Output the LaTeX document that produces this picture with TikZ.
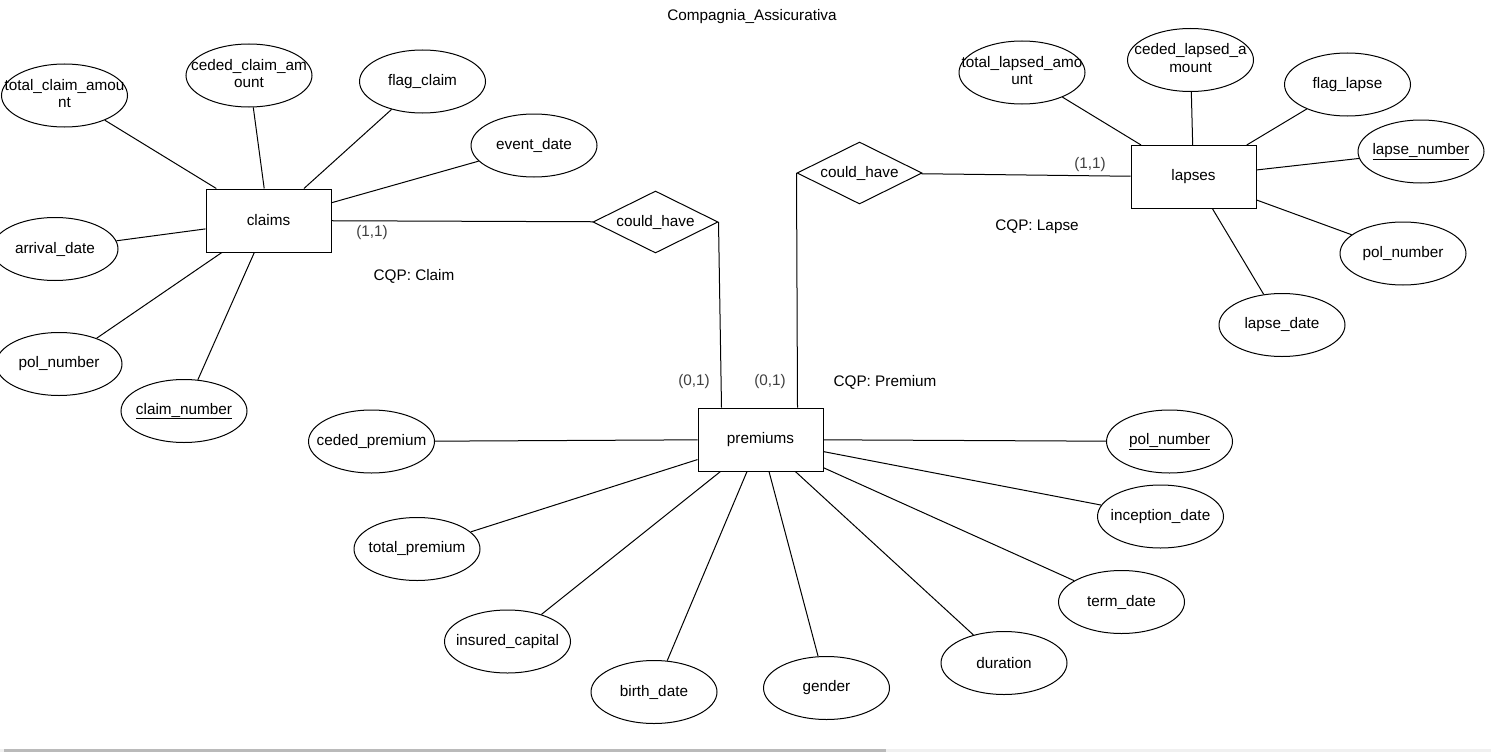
\documentclass[tikz,border=0pt]{standalone}
\usepackage{fontspec}
\setmainfont{Liberation Sans}
\usetikzlibrary{shapes.geometric,calc}
\newcommand\ertxt[1]{\makebox[0pt][c]{#1}}
\newcommand\ertwo[2]{\makebox[0pt][c]{\begin{tabular}{@{}c@{}}#1\\#2\end{tabular}}}
\begin{document}
\begin{tikzpicture}[x=1pt,y=-1pt,
  font=\fontsize{15.3}{17.3}\selectfont,
  line width=1pt,
  ent/.style={draw, rectangle, minimum width=125pt, minimum height=63pt, inner sep=0pt, fill=white},
  attr/.style={draw, ellipse, minimum width=126pt, minimum height=63pt, inner sep=0pt, fill=white},
  rel/.style={draw, diamond, aspect=2, minimum width=125pt, minimum height=62pt, inner sep=0pt, fill=white},
  lbl/.style={inner sep=0pt},
  card/.style={inner sep=0pt, text=black!75},
  conn/.style={draw, line width=1pt}]
\fill[white] (0,0) rectangle (1491,752);
\useasboundingbox (0,0) rectangle (1491,752);

% entities and relationships
\node[ent] (cl) at (268.5,220.5) {claims};
\node[ent] (pr) at (760.5,439.5) {premiums};
\node[ent] (la) at (1193.5,177) {lapses};
\node[rel] (r1) at (655.5,222) {\ertxt{could\_have}};
\node[rel] (r2) at (859.5,173) {\ertxt{could\_have}};

% claims attributes
\node[attr] (tca) at (64.5,95.5) {\ertwo{total\_claim\_amou}{nt}};
\node[attr] (cca) at (249,75.5) {\ertwo{ceded\_claim\_am}{ount}};
\node[attr] (fc) at (422.5,81.5) {\ertxt{flag\_claim}};
\node[attr] (ed) at (534,145.5) {\ertxt{event\_date}};
\node[attr] (ad) at (55,249) {\ertxt{arrival\_date}};
\node[attr] (pnc) at (59,364) {\ertxt{pol\_number}};
\node[attr] (cn) at (184,411) {\ertxt{\underline{claim\_number}}};

% lapses attributes
\node[attr] (tla) at (1022,72.5) {\ertwo{total\_lapsed\_amo}{unt}};
\node[attr] (cla) at (1190.5,60) {\ertwo{ceded\_lapsed\_a}{mount}};
\node[attr] (fl) at (1347.5,84.5) {\ertxt{flag\_lapse}};
\node[attr] (ln) at (1421,151.5) {\ertxt{\underline{lapse\_number}}};
\node[attr] (pnl) at (1403,253.5) {\ertxt{pol\_number}};
\node[attr] (ld) at (1282,325) {\ertxt{lapse\_date}};

% premiums attributes
\node[attr] (cp) at (371.5,441.5) {\ertxt{ceded\_premium}};
\node[attr] (tp) at (417,549) {\ertxt{total\_premium}};
\node[attr] (ic) at (507.5,641.5) {\ertxt{insured\_capital}};
\node[attr] (bd) at (654,692) {\ertxt{birth\_date}};
\node[attr] (ge) at (826.5,688) {\ertxt{gender}};
\node[attr] (du) at (1004,663) {\ertxt{duration}};
\node[attr] (td) at (1121.5,602) {\ertxt{term\_date}};
\node[attr] (id) at (1160.5,516.5) {\ertxt{inception\_date}};
\node[attr] (pnp) at (1169.5,441.5) {\ertxt{\underline{pol\_number}}};

% labels
\node[lbl] (title) at (752,17) {Compagnia\_Assicurativa};
\node[card] (c11) at (372,233) {(1,1)};
\node[lbl] (cqpc) at (414,276) {CQP: Claim};
\node[card] (p01a) at (694,382) {(0,1)};
\node[card] (p01b) at (770,382) {(0,1)};
\node[lbl] (cqpp) at (885,382) {CQP: Premium};
\node[card] (l11) at (1090,165) {(1,1)};
\node[lbl] (cqpl) at (1037,227) {CQP: Lapse};

\coordinate (pra) at ($(pr.north west)+(24,0)$);
\coordinate (prb) at ($(pr.north west)+(100,0)$);

% connectors
\foreach \a in {tca,cca,fc,ed,ad,pnc,cn} \draw[conn] (cl) -- (\a);
\foreach \a in {tla,cla,fl,ln,pnl,ld} \draw[conn] (la) -- (\a);
\foreach \a in {cp,tp,ic,bd,ge,du,td,id,pnp} \draw[conn] (pr) -- (\a);
\draw[conn] (cl) -- (r1);
\draw[conn] (r1.east) -- (pra);
\draw[conn] (r2.west) -- (prb);
\draw[conn] (r2) -- (la);

% bottom scrollbar strip
\fill[black!6] (0,748.5) rectangle (1491,752);
\fill[black!27] (4,748.5) rectangle (886,752);
\end{tikzpicture}
\end{document}
